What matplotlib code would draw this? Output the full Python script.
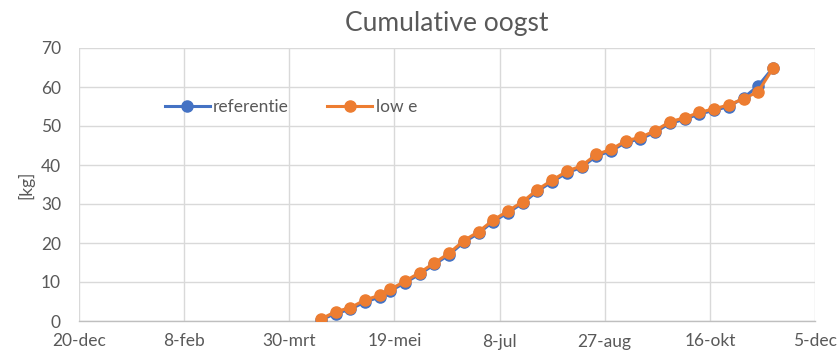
import datetime as dt

import matplotlib
matplotlib.use("Agg")
from matplotlib import pyplot as plt
import numpy as np

plt.rcParams['font.family'] = ['Lato', 'DejaVu Sans']

# harvest dates (weekly from mid April)
oogst_dagen = ['2019-04-14', '2019-04-21', '2019-04-28', '2019-05-05', '2019-05-12',
               '2019-05-17', '2019-05-24', '2019-05-31', '2019-06-07', '2019-06-14',
               '2019-06-21', '2019-06-28', '2019-07-05', '2019-07-12', '2019-07-19',
               '2019-07-26', '2019-08-02', '2019-08-09', '2019-08-16', '2019-08-23',
               '2019-08-30', '2019-09-06', '2019-09-13', '2019-09-20', '2019-09-27',
               '2019-10-04', '2019-10-11', '2019-10-18', '2019-10-25', '2019-11-01',
               '2019-11-08', '2019-11-15']

low_e = [0.5, 2.4, 3.4, 5.4, 6.6, 8.1, 10.2, 12.4, 14.9, 17.4,
         20.6, 22.9, 25.9, 28.2, 30.6, 33.7, 36.1, 38.4, 39.8, 42.7,
         44.0, 46.2, 47.1, 48.8, 51.1, 52.1, 53.5, 54.4, 55.4, 57.0,
         58.8, 64.8]

referentie = [0.3, 1.9, 3.0, 4.9, 6.1, 7.7, 9.8, 12.0, 14.5, 17.0,
              20.2, 22.5, 25.5, 27.8, 30.2, 33.3, 35.7, 38.0, 39.4, 42.3,
              43.6, 45.8, 46.7, 48.4, 50.7, 51.7, 53.1, 54.0, 55.0, 57.2,
              60.3, 64.9]

# axis ticks every 50 days
x_ticks = ['2018-12-20', '2019-02-08', '2019-03-30', '2019-05-19',
           '2019-07-08', '2019-08-27', '2019-10-16', '2019-12-05']
maanden = ['jan', 'feb', 'mrt', 'apr', 'mei', 'jun',
           'jul', 'aug', 'sep', 'okt', 'nov', 'dec']

dagen = [dt.date.fromisoformat(d) for d in oogst_dagen]
ticks = [dt.date.fromisoformat(d) for d in x_ticks]

fig = plt.figure(figsize=(8.4, 3.58), dpi=100)
ax = fig.add_axes([79 / 840, 37 / 358, 736 / 840, 273 / 358])

blauw = '#4472C4'
oranje = '#ED7D31'
tekst = '#595959'

ax.plot(dagen, referentie, color=blauw, lw=2.2, marker='o', ms=8, label='referentie', zorder=3)
ax.plot(dagen, low_e, color=oranje, lw=2.2, marker='o', ms=8, label='low e', zorder=4)

ax.set_xlim(ticks[0], ticks[-1])
ax.set_ylim(0, 70)
ax.set_xticks(ticks)
ax.set_xticklabels([f'{d.day}-{maanden[d.month - 1]}' for d in ticks])
ax.set_yticks(np.arange(0, 71, 10))

ax.grid(True, color='#D9D9D9', lw=1)
ax.set_axisbelow(True)
for s in ['top', 'right', 'left']:
    ax.spines[s].set_visible(False)
ax.spines['bottom'].set_color('#BFBFBF')
ax.spines['bottom'].set_linewidth(1)
ax.tick_params(length=0, labelsize=12.5, labelcolor=tekst)
ax.tick_params(axis='x', pad=9)
ax.tick_params(axis='y', pad=13)

ax.set_ylabel('[kg]', fontsize=12.5, color=tekst, labelpad=5)
ax.set_title('Cumulative oogst', fontsize=19, color=tekst, pad=12)

ax.legend(loc='center left', bbox_to_anchor=(0.095, 0.785), ncol=2, frameon=False,
          fontsize=12.5, labelcolor=tekst, handlelength=2.6, columnspacing=2.2,
          handletextpad=0.2)

fig.savefig('out.png', dpi=100)
